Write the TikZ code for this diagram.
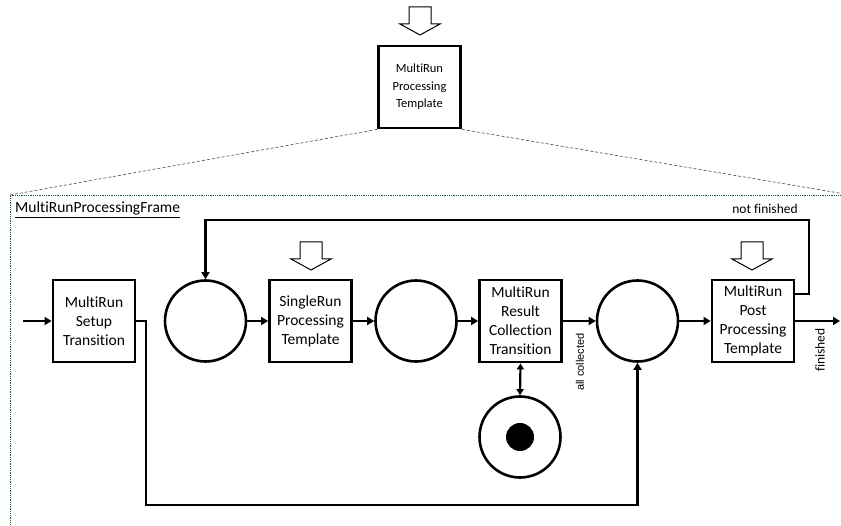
\documentclass[tikz,border=0pt]{standalone}
\usepackage{fontspec}
\setmainfont{Carlito}[Ligatures=NoCommon]
\newfontfamily\arialfont{Liberation Sans}
\usetikzlibrary{arrows.meta}
\definecolor{framegreen}{RGB}{40,90,50}
\definecolor{guidegray}{RGB}{70,70,70}
\tikzset{
  box/.style={draw, line width=2.8pt, minimum width=82pt, minimum height=82pt,
    align=center, inner sep=0pt, font=\fontsize{15.5}{19}\selectfont},
  topbox/.style={box, font=\fontsize{12.5}{17.5}\selectfont},
  place/.style={draw, circle, line width=2.6pt, minimum size=81pt, inner sep=0pt},
  flow/.style={line width=2.6pt, -{Triangle[length=7pt,width=8pt]}},
  dbl/.style={line width=2.2pt, {Triangle[length=6pt,width=7pt]}-{Triangle[length=6pt,width=7pt]}},
  guide/.style={guidegray, line width=0.6pt, densely dashed},
  framestyle/.style={framegreen, line width=0.8pt, densely dotted},
  lbl/.style={font=\fontsize{13.5}{16}\selectfont, inner sep=0pt},
  hollowarrow/.pic={
    \draw[line width=1pt, fill=white] (-11,0) -- (11,0) -- (11,17) -- (20,17)
      -- (0,28) -- (-20,17) -- (-11,17) -- cycle;
  }
}
\begin{document}
\begin{tikzpicture}[x=1pt, y=-1pt]
\useasboundingbox (0,0) rectangle (841,526);

% enclosing frame and its guide lines
\draw[framestyle] (10,530) -- (10,195) -- (845,195);
\node[topbox] (top) at (419.5,87) {MultiRun\\Processing\\Template};
\draw[guide] (top.south west) -- (10,195);
\draw[guide] (top.south east) -- (845,194);
\pic at (420,7) {hollowarrow};
\node[anchor=base west, inner sep=0pt, font=\fontsize{15.5}{19}\selectfont] (framelbl)
  at (15,213) {\underline{MultiRunProcessingFrame}};

% transitions and places
\node[box] (setup)  at (94,321)    {MultiRun\\Setup\\Transition};
\node[place] (c1)   at (205.5,321) {};
\node[box] (single) at (310.5,321) {SingleRun\\Processing\\Template};
\node[place] (c2)   at (416,321)   {};
\node[box] (result) at (520.5,321) {MultiRun\\Result\\Collection\\Transition};
\node[place] (c3)   at (637.5,321) {};
\node[box] (post)   at (753,321)   {MultiRun\\Post\\Processing\\Template};
\node[place] (token) at (520,437)  {};
\fill (token.center) circle (14);

\pic at (311,242) {hollowarrow};
\pic at (752,242) {hollowarrow};

% connectors
\coordinate (in) at (23,321);
\coordinate (out) at (840,321);
\coordinate (bl) at (146,505);
\coordinate (lp) at (809,220);
\draw[flow] (in) -- (setup.west);
\draw[flow] (c1) -- (single);
\draw[flow] (single) -- (c2);
\draw[flow] (c2) -- (result);
\draw[flow] (result) -- (c3);
\draw[flow] (c3) -- (post);
\draw[flow] (post.east) -- (out);
\draw[flow] (setup.east) -| (bl) -| (c3.south);
\draw[flow] ([yshift=27pt]post.east) -| (lp) -| (c1.north);
\draw[dbl] (result.south) -- (token.north);

% guard labels
\node[lbl] (nf) at (765,209) {not finished};
\node[lbl, rotate=90, font=\arialfont\fontsize{11}{13}\selectfont] (allc) at (580,362) {all collected};
\node[lbl, rotate=90] (fin) at (820,350) {finished};
\end{tikzpicture}
\end{document}
